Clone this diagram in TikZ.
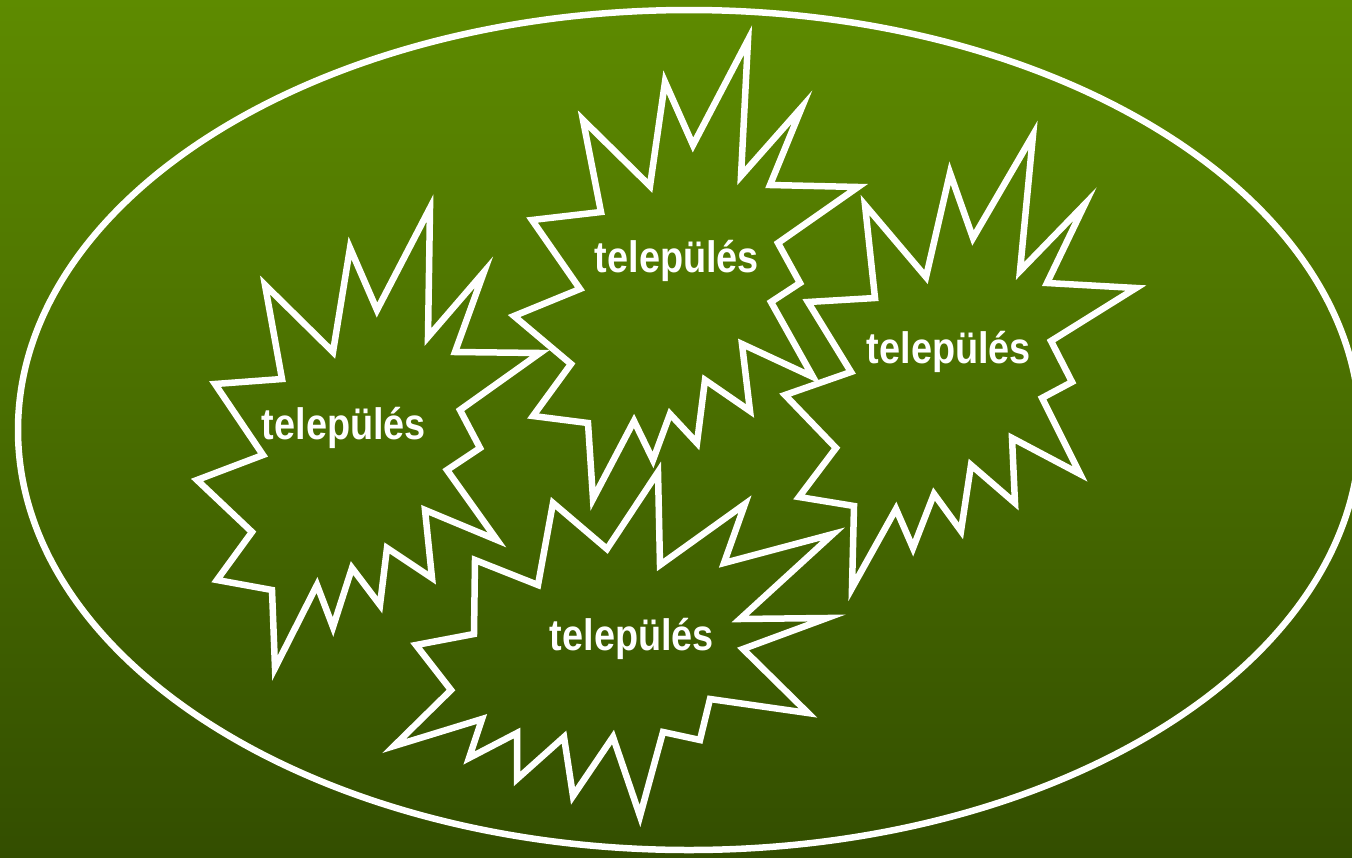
\documentclass[tikz,border=0pt]{standalone}
\usepackage{fontspec}
\setmainfont{Liberation Sans}
\newcommand{\narrowlbl}[1]{\scalebox{0.86}[1]{#1}}
\begin{document}
\begin{tikzpicture}[x=1pt,y=-1pt,
  line join=miter,
  burst/.style={draw=white,line width=6.5pt,miter limit=20},
  lbl/.style={text=white,font=\fontsize{44}{46}\selectfont\bfseries,inner sep=0pt}]
\definecolor{bgtop}{RGB}{94,139,0}
\definecolor{bgbot}{RGB}{51,78,0}
\shade[top color=bgtop,bottom color=bgbot] (0,0) rectangle (1352,857);
\useasboundingbox (0,0) rectangle (1352,857);
\draw[white,line width=6.5pt] (689,430) ellipse [x radius=671, y radius=420];
% star 1
\draw[burst] (265,285)--(333,352)--(350,248)--(377,310)--(430,208)--(428,337)--(484,272)--(455,352)--(540,353)--(460,410)--(480,448)--(447,470)--(497,540)--(425,510)--(432,578)--(387,548)--(380,605)--(352,568)--(333,627)--(317,585)--(275,668)--(272,590)--(217,580)--(252,532)--(197,480)--(263,455)--(215,384)--(282,379)--cycle;
% star 2
\draw[burst] (583,120)--(650,186)--(665,82)--(693,145)--(748,40)--(741,176)--(802,107)--(770,185)--(858,187)--(778,243)--(800,283)--(771,302)--(813,377)--(742,344)--(750,411)--(705,380)--(697,443)--(670,414)--(653,460)--(634,421)--(593,499)--(588,423)--(533,416)--(571,364)--(514,316)--(580,289)--(532,220)--(601,212)--cycle;
% star 3
\draw[burst] (865,205)--(926,277)--(950,173)--(973,238)--(1033,135)--(1020,271)--(1085,204)--(1047,283)--(1136,288)--(1051,341)--(1072,382)--(1042,398)--(1080,474)--(1012,438)--(1015,503)--(971,465)--(961,531)--(934,494)--(913,548)--(896,509)--(852,588)--(854,506)--(799,497)--(836,448)--(785,395)--(851,372)--(808,302)--(875,298)--cycle;
% star 4
\draw[burst] (658,472)--(660,565)--(745,504)--(724,563)--(833,534)--(740,619)--(827,618)--(743,649)--(808,713)--(710,699)--(700,740)--(663,732)--(640,816)--(613,737)--(573,796)--(564,737)--(517,779)--(517,733)--(469,758)--(482,719)--(394,746)--(451,690)--(416,645)--(474,634)--(475,560)--(538,585)--(553,503)--(607,549)--cycle;
\node[lbl] (t1) at (344,428) {\narrowlbl{település}};
\node[lbl] (t2) at (677,261) {\narrowlbl{település}};
\node[lbl] (t3) at (949,352) {\narrowlbl{település}};
\node[lbl] (t4) at (632,639) {\narrowlbl{település}};
\end{tikzpicture}
\end{document}
